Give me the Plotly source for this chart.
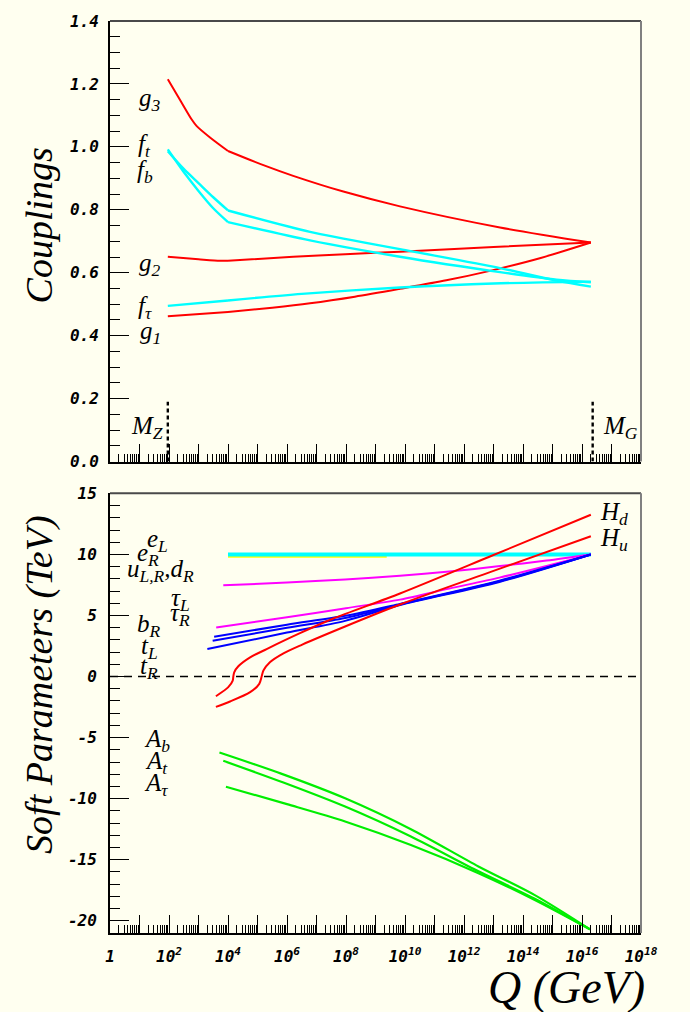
import plotly.graph_objects as go

# ---------------- data (log10 Q in GeV, values) ----------------
MZ = 91.19
MG_LINE = 2.3e16
KINK_LOGQ = 4.0  # SUSY threshold seen as a kink in the couplings

# top panel: couplings
G3_LOGQ = [1.96, 2.37, 2.77, 2.94, 3.39, 4.0, 5.2, 6.21, 7.91, 9.83, 13.22, 16.3]
G3_VAL = [1.215, 1.15, 1.087, 1.066, 1.03, 0.987, 0.942, 0.908, 0.858, 0.811, 0.744, 0.696]
G2_LOGQ = [1.96, 3.0, 3.73, 4.0, 6.21, 7.97, 9.83, 13.0, 16.3]
G2_VAL = [0.651, 0.643, 0.638, 0.638, 0.651, 0.659, 0.667, 0.682, 0.696]
G1_LOGQ = [1.96, 4.0, 5.5, 6.78, 8.3, 9.83, 11.4, 12.88, 14.6, 16.3]
G1_VAL = [0.4615, 0.475, 0.489, 0.503, 0.524, 0.549, 0.576, 0.606, 0.647, 0.696]
FT_LOGQ = [1.96, 2.5, 3.0, 3.5, 4.0, 6.78, 9.83, 13.22, 15.14, 16.3]
FT_VAL = [0.986, 0.93, 0.885, 0.84, 0.798, 0.730, 0.675, 0.615, 0.575, 0.556]
FB_LOGQ = [1.96, 2.5, 3.0, 3.5, 4.0, 6.78, 9.83, 13.22, 15.14, 16.3]
FB_VAL = [0.992, 0.92, 0.86, 0.805, 0.761, 0.703, 0.651, 0.602, 0.578, 0.570]
FTAU_LOGQ = [1.96, 4.0, 6.5, 9.83, 13.0, 16.3]
FTAU_VAL = [0.495, 0.512, 0.533, 0.553, 0.566, 0.572]

# bottom panel: soft parameters (TeV)
SF_LOGQ = [4.0, 8.0, 12.0, 16.3]
SF_VAL = [10.0, 10.0, 10.0, 10.0]
YEL_LOGQ = [4.0, 9.38]
YEL_VAL = [9.8, 9.8]
TAUL_LOGQ = [3.84, 6.0, 7.97, 9.83, 11.5, 13.22, 14.8, 16.3]
TAUL_VAL = [7.47, 7.7, 7.95, 8.25, 8.6, 9.05, 9.5, 10.0]
TAUR_LOGQ = [3.6, 6.0, 8.0, 9.83, 11.5, 13.2, 14.8, 16.3]
TAUR_VAL = [4.02, 4.85, 5.6, 6.3, 7.2, 8.1, 9.05, 10.0]
BR_LOGQ = [3.53, 6.0, 7.97, 9.83, 13.2, 16.3]
BR_VAL = [3.26, 4.25, 4.97, 5.95, 7.85, 10.0]
TL_LOGQ = [3.48, 6.0, 7.97, 9.83, 13.2, 16.3]
TL_VAL = [2.93, 4.0, 4.8, 5.9, 7.8, 10.0]
TR_LOGQ = [3.3, 6.0, 7.97, 9.83, 13.2, 16.3]
TR_VAL = [2.25, 3.6, 4.56, 5.85, 7.75, 10.0]
HD_LOGQ = [3.59, 4.01, 4.16, 4.18, 4.21, 4.35, 4.75, 5.31, 6.44, 7.57, 9.83, 13.0, 16.3]
HD_VAL = [-1.61, -0.87, -0.33, 0.0, 0.35, 0.84, 1.57, 2.25, 3.55, 4.75, 6.8, 9.95, 13.25]
HU_LOGQ = [3.59, 4.07, 4.75, 5.06, 5.14, 5.2, 5.42, 5.88, 6.5, 7.97, 9.83, 13.0, 16.3]
HU_VAL = [-2.48, -2.04, -1.28, -0.6, 0.0, 0.49, 1.17, 1.9, 2.6, 4.1, 5.9, 8.65, 11.49]
AB_LOGQ = [3.71, 5.8, 7.97, 10.2, 12.49, 14.4, 16.27]
AB_VAL = [-6.22, -7.95, -9.97, -12.5, -15.55, -17.9, -20.7]
AT_LOGQ = [3.84, 5.9, 7.97, 10.2, 12.49, 14.4, 16.27]
AT_VAL = [-6.9, -8.7, -10.65, -13.1, -15.95, -18.2, -20.7]
ATAU_LOGQ = [3.93, 6.0, 7.97, 10.2, 12.49, 14.4, 16.27]
ATAU_VAL = [-9.02, -10.45, -11.87, -13.8, -16.1, -18.3, -20.7]

DECADES = list(range(0, 19))
YTOP_TICKS = [0.0, 0.2, 0.4, 0.6, 0.8, 1.0, 1.2, 1.4]
YBOT_TICKS = [-20, -15, -10, -5, 0, 5, 10, 15]

# ---------------- style ----------------
BG = "#FFFFF0"
RED = "#FF0000"
CYAN = "#00FFFF"
MAG = "#FF00FF"
BLUE = "#0000FF"
GREEN = "#00EE00"
YEL = "#FFFF00"
SERIF = "Liberation Serif"
TICKFONT = dict(family="DejaVu Sans Mono", size=16, color="black", weight="bold", style="italic")

W, H = 690, 1012
L, R, T, B = 110, 49, 14, 79
PW, PH = W - L - R, H - T - B


def px(xp, yp):
    return (xp - L) / PW, (H - B - yp) / PH


def q(logs):
    return [10 ** v for v in logs]


fig = go.Figure()


def line(xl, yl, color, width=2.0, axis=1, shape="linear", dash=None):
    fig.add_trace(go.Scatter(
        x=q(xl), y=yl, mode="lines",
        line=dict(color=color, width=width, shape=shape, dash=dash, smoothing=0.8),
        xaxis="x" if axis == 1 else "x2", yaxis="y" if axis == 1 else "y2",
        showlegend=False, hoverinfo="skip"))


def kinked(xl, yl, color, width=2.0):
    lo = [i for i, v in enumerate(xl) if v <= KINK_LOGQ]
    hi = [i for i, v in enumerate(xl) if v >= KINK_LOGQ]
    line([xl[i] for i in lo], [yl[i] for i in lo], color, width, 1, "spline")
    line([xl[i] for i in hi], [yl[i] for i in hi], color, width, 1, "spline")


# top panel
kinked(G3_LOGQ, G3_VAL, RED)
kinked(G2_LOGQ, G2_VAL, RED)
kinked(G1_LOGQ, G1_VAL, RED)
kinked(FT_LOGQ, FT_VAL, CYAN, 2.4)
kinked(FB_LOGQ, FB_VAL, CYAN, 2.4)
kinked(FTAU_LOGQ, FTAU_VAL, CYAN, 2.4)
fig.add_trace(go.Scatter(x=[MZ, MZ], y=[0, 0.19], mode="lines",
                         line=dict(color="black", width=2.4, dash="4px,3px"),
                         showlegend=False, hoverinfo="skip"))
fig.add_trace(go.Scatter(x=[MG_LINE, MG_LINE], y=[0, 0.19], mode="lines",
                         line=dict(color="black", width=2.4, dash="4px,3px"),
                         showlegend=False, hoverinfo="skip"))

# bottom panel
fig.add_trace(go.Scatter(x=[1, 1e18], y=[0, 0], mode="lines", xaxis="x2", yaxis="y2",
                         line=dict(color="black", width=1.6, dash="8px,6px"),
                         showlegend=False, hoverinfo="skip"))
line(YEL_LOGQ, YEL_VAL, YEL, 2.0, 2)
line(SF_LOGQ, SF_VAL, CYAN, 4.0, 2)
line(TAUL_LOGQ, TAUL_VAL, MAG, 2.0, 2, "spline")
line(TAUR_LOGQ, TAUR_VAL, MAG, 2.0, 2, "spline")
line(BR_LOGQ, BR_VAL, BLUE, 2.0, 2, "spline")
line(TL_LOGQ, TL_VAL, BLUE, 2.0, 2, "spline")
line(TR_LOGQ, TR_VAL, BLUE, 2.0, 2, "spline")
line(HD_LOGQ, HD_VAL, RED, 2.0, 2, "spline")
line(HU_LOGQ, HU_VAL, RED, 2.0, 2, "spline")
line(AB_LOGQ, AB_VAL, GREEN, 2.2, 2, "spline")
line(AT_LOGQ, AT_VAL, GREEN, 2.2, 2, "spline")
line(ATAU_LOGQ, ATAU_VAL, GREEN, 2.2, 2, "spline")

# ---------------- axes ----------------
major_x = [10 ** k for k in DECADES]
minor_x = [m * 10 ** k for k in DECADES[:-1] for m in range(2, 10)]
xlabels = ["1" if k == 0 else (f"10<sup>{k}</sup>" if k % 2 == 0 else "") for k in DECADES]

ytop_dom = ((H - B - 458) / PH, 1.0)
ybot_dom = (0.0, (H - B - 490) / PH)


def xaxis(anchor, show_labels):
    return dict(type="log", range=[0, 18], anchor=anchor, domain=[0, 1],
                showline=True, linecolor="black", linewidth=1.6, mirror=False,
                showgrid=False, zeroline=False,
                tickmode="array", tickvals=major_x, ticktext=xlabels,
                ticks="inside", ticklen=18, tickwidth=1, tickcolor="black",
                showticklabels=show_labels, tickfont=TICKFONT, ticklabelstandoff=8,
                minor=dict(tickmode="array", tickvals=minor_x, ticks="inside",
                           ticklen=8, tickwidth=1, tickcolor="black", showgrid=False))


fig.update_layout(
    width=W, height=H,
    margin=dict(l=L, r=R, t=T, b=B),
    paper_bgcolor=BG, plot_bgcolor=BG,
    showlegend=False,
    xaxis=xaxis("y", False),
    xaxis2=xaxis("y2", True),
    yaxis=dict(domain=list(ytop_dom), range=[0, 1.4], anchor="x",
               showline=True, linecolor="black", linewidth=2, showgrid=False, zeroline=False,
               tickmode="array", tickvals=YTOP_TICKS, ticktext=[f"{v:.1f}" for v in YTOP_TICKS],
               ticks="inside", ticklen=19, tickwidth=1, tickcolor="black",
               tickfont=TICKFONT, ticklabelstandoff=6,
               minor=dict(dtick=0.05, ticks="inside", ticklen=10, tickwidth=1,
                          tickcolor="black", showgrid=False)),
    yaxis2=dict(domain=list(ybot_dom), range=[-21, 15], anchor="x2",
                showline=True, linecolor="black", linewidth=2, showgrid=False, zeroline=False,
                tickmode="array", tickvals=YBOT_TICKS, ticktext=[str(v) for v in YBOT_TICKS],
                ticks="inside", ticklen=19, tickwidth=1, tickcolor="black",
                tickfont=TICKFONT, ticklabelstandoff=8,
                minor=dict(dtick=1, ticks="inside", ticklen=10, tickwidth=1,
                           tickcolor="black", showgrid=False)),
)

# frame top/right edges
for xr, yr in (("x domain", "y domain"), ("x2 domain", "y2 domain")):
    fig.add_shape(type="line", xref=xr, yref=yr, x0=0, x1=1, y0=1, y1=1,
                  line=dict(color="#4a4a4a", width=2))
    fig.add_shape(type="line", xref=xr, yref=yr, x0=1, x1=1, y0=0, y1=1,
                  line=dict(color="#808080", width=2))

# ---------------- text ----------------
LABFONT = dict(family=SERIF, size=25, color="black", style="italic")


def label(text, xp, yp, size=25, angle=0):
    xx, yy = px(xp, yp)
    f = dict(LABFONT)
    f["size"] = size
    fig.add_annotation(text=text, x=xx, y=yy, xref="paper", yref="paper",
                       showarrow=False, font=f, textangle=angle,
                       xanchor="center", yanchor="middle")


label("g<sub>3</sub>", 150, 93)
label("f<sub>t</sub>", 144, 139)
label("f<sub>b</sub>", 145, 166)
label("g<sub>2</sub>", 150, 259)
label("f<sub>τ</sub>", 145, 303)
label("g<sub>1</sub>", 150, 328)
label("M<sub>Z</sub>", 147, 424)
label("M<sub>G</sub>", 620, 424)

label("e<sub>L</sub>", 157, 537)
label("e<sub>R</sub>", 148, 552)
label("u<sub>L,R</sub>,d<sub>R</sub>", 160, 568)
label("τ<sub>L</sub>", 180, 597)
label("τ<sub>R</sub>", 180, 612)
label("b<sub>R</sub>", 149, 623)
label("t<sub>L</sub>", 149, 645)
label("t<sub>R</sub>", 149, 665)
label("A<sub>b</sub>", 157, 739)
label("A<sub>t</sub>", 156, 761)
label("A<sub>τ</sub>", 156, 783)
label("H<sub>d</sub>", 614, 510)
label("H<sub>u</sub>", 614, 536)

label("Couplings", 39, 220, size=38, angle=-90)
label("Soft Parameters (TeV)", 40, 683, size=38, angle=-90)
label("Q (GeV)", 566, 988, size=46)

fig.write_html("out.html")
